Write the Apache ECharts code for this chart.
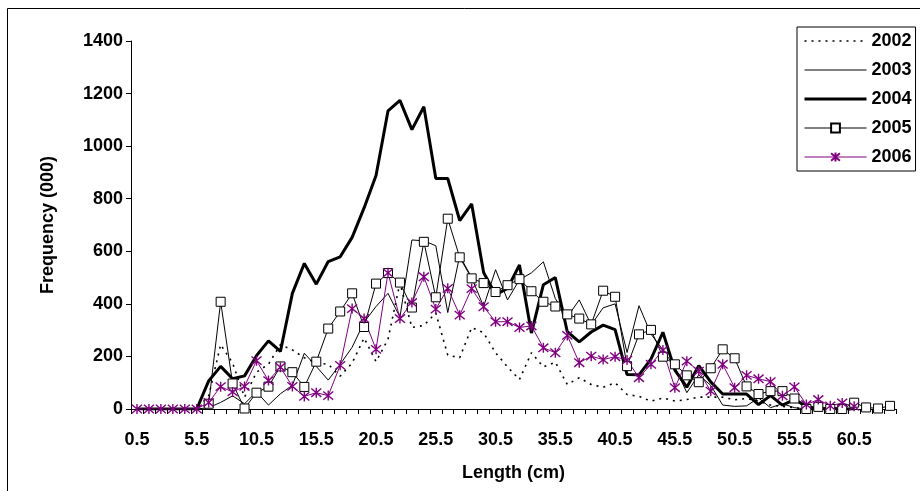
<!DOCTYPE html>
<html>
<head>
<meta charset="utf-8">
<script src="https://cdn.jsdelivr.net/npm/echarts@6/dist/echarts.min.js"></script>
<style>
html,body{margin:0;padding:0;background:#fff;}
#chart{width:920px;height:491px;}
</style>
</head>
<body>
<div id="chart"></div>
<script>
const categories = ["0.5","1.5","2.5","3.5","4.5","5.5","6.5","7.5","8.5","9.5",
"10.5","11.5","12.5","13.5","14.5","15.5","16.5","17.5","18.5","19.5",
"20.5","21.5","22.5","23.5","24.5","25.5","26.5","27.5","28.5","29.5",
"30.5","31.5","32.5","33.5","34.5","35.5","36.5","37.5","38.5","39.5",
"40.5","41.5","42.5","43.5","44.5","45.5","46.5","47.5","48.5","49.5",
"50.5","51.5","52.5","53.5","54.5","55.5","56.5","57.5","58.5","59.5",
"60.5","61.5","62.5","63.5"];

const y2002 = [0,0,0,0,0,0,50,245,175,45,
140,170,245,225,195,176,170,125,175,270,
180,265,480,310,318,365,205,195,310,290,
214,160,112,214,160,178,93,119,93,83,
100,55,48,30,42,30,36,45,45,45,
35,40,30,15,10,5,0,0,0,0,
0,null,null,null];

const y2003 = [0,0,0,0,0,0,5,25,50,20,
65,15,58,90,212,162,110,170,235,330,
390,440,350,643,640,621,367,583,500,390,
530,415,492,518,560,420,350,415,320,385,
400,215,393,285,225,160,62,130,90,15,
10,12,42,5,20,5,0,0,0,0,
0,null,null,null];

const y2004 = [0,0,0,0,0,0,107,162,115,126,
203,259,219,440,554,475,561,579,653,765,
888,1134,1174,1063,1150,877,877,717,780,519,
435,459,548,289,473,500,294,255,293,319,
302,131,130,190,292,148,83,165,103,57,
57,57,17,51,15,36,11,0,3,0,
0,null,null,null];

const y2005 = [null,null,null,null,null,null,20,408,97,2,
62,85,162,140,84,180,306,371,440,312,
477,517,481,386,636,425,724,577,497,479,
445,471,494,448,408,390,360,344,322,450,
427,163,284,301,199,170,128,102,155,227,
193,86,57,68,68,40,0,8,0,0,
24,6,2,12];

const y2006 = [0,0,0,0,0,0,25,85,65,86,
184,108,159,86,48,62,51,166,382,344,
227,518,344,405,503,380,459,357,458,389,
332,332,310,316,233,214,280,176,201,188,
199,186,119,170,224,81,182,144,68,170,
81,128,115,104,50,84,17,36,12,23,
10,null,null,null];

const yTicks = [0,200,400,600,800,1000,1200,1400];
const legendNames = ['2002','2003','2004','2005','2006'];

const FONT = '"Liberation Sans", Arial, sans-serif';
const chart = echarts.init(document.getElementById('chart'), null, {renderer:'canvas'});
const asterisk = 'path://M0,0L10,10M10,0L0,10M5,-1L5,11';

const hideMarker = {opacity: 0};

chart.setOption({
  animation: false,
  backgroundColor: '#fff',
  graphic: [{
    type: 'rect', silent: true, z: -1,
    shape: {x: 7.5, y: 8.5, width: 930, height: 500},
    style: {fill: 'none', stroke: '#000', lineWidth: 1}
  }],
  grid: {left: 131, right: 24, top: 41, bottom: 82, containLabel: false},
  legend: {
    orient: 'vertical',
    left: 797, top: 27,
    padding: [5, 4, 5, 6],
    itemGap: 11,
    itemWidth: 62, itemHeight: 11,
    borderColor: '#000', borderWidth: 1,
    backgroundColor: '#fff',
    textStyle: {fontFamily: FONT, fontWeight: 'bold', fontSize: 18, color: '#000'},
    data: [
      {name: legendNames[0], itemStyle: hideMarker, lineStyle: {width: 1.6, type: [2, 5], color: '#000'}},
      {name: legendNames[1], itemStyle: hideMarker, lineStyle: {width: 1, color: '#000'}},
      {name: legendNames[2], itemStyle: hideMarker, lineStyle: {width: 3, color: '#000'}},
      {name: legendNames[3], lineStyle: {width: 1, color: '#000'}},
      {name: legendNames[4], lineStyle: {width: 1, color: '#800080'}}
    ]
  },
  xAxis: {
    type: 'category',
    data: categories,
    boundaryGap: true,
    name: 'Length (cm)',
    nameLocation: 'middle',
    nameGap: 55,
    nameTextStyle: {fontFamily: FONT, fontWeight: 'bold', fontSize: 18, color: '#000'},
    axisLine: {lineStyle: {color: '#000', width: 1}},
    axisTick: {show: true, interval: 0, length: 5, lineStyle: {color: '#000'}},
    axisLabel: {interval: 4, margin: 22, fontFamily: FONT, fontWeight: 'bold', fontSize: 18, color: '#000'},
    splitLine: {show: false}
  },
  yAxis: {
    type: 'value',
    min: yTicks[0], max: yTicks[yTicks.length-1], interval: 200,
    name: 'Frequency (000)',
    nameLocation: 'middle',
    nameGap: 74,
    nameTextStyle: {fontFamily: FONT, fontWeight: 'bold', fontSize: 18, color: '#000'},
    axisLine: {show: true, lineStyle: {color: '#000', width: 1}},
    axisTick: {show: true, length: 5, lineStyle: {color: '#000'}},
    axisLabel: {margin: 8, fontFamily: FONT, fontWeight: 'bold', fontSize: 18, color: '#000',
                formatter: v => String(v)},
    splitLine: {show: false}
  },
  series: [
    {name: legendNames[0], type: 'line', data: y2002, symbol: 'none',
     lineStyle: {color: '#000', width: 1.6, type: [2, 5]}, itemStyle: {color: '#000'}, emphasis: {disabled: true}},
    {name: legendNames[1], type: 'line', data: y2003, symbol: 'none',
     lineStyle: {color: '#000', width: 1}, itemStyle: {color: '#000'}, emphasis: {disabled: true}},
    {name: legendNames[2], type: 'line', data: y2004, symbol: 'none',
     lineStyle: {color: '#000', width: 3}, itemStyle: {color: '#000'}, emphasis: {disabled: true}},
    {name: legendNames[3], type: 'line', data: y2005, symbol: 'rect', symbolSize: 9, showAllSymbol: true,
     lineStyle: {color: '#000', width: 1}, itemStyle: {color: '#fff', borderColor: '#000', borderWidth: 1}, emphasis: {disabled: true}},
    {name: legendNames[4], type: 'line', data: y2006, symbol: asterisk, symbolSize: 10, showAllSymbol: true,
     lineStyle: {color: '#800080', width: 1}, itemStyle: {color: '#800080', borderColor: '#800080', borderWidth: 1.4}, emphasis: {disabled: true}}
  ]
});
</script>
</body>
</html>
